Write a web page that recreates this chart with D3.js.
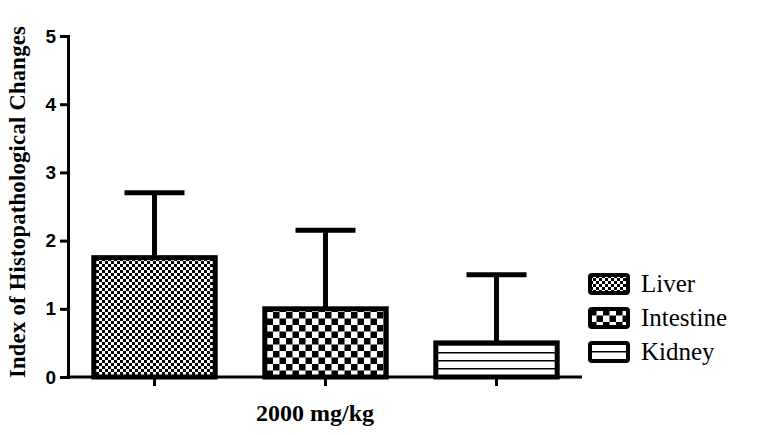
<!DOCTYPE html>
<html><head><meta charset="utf-8">
<script src="https://cdn.jsdelivr.net/npm/d3@7"></script>
<style>body{margin:0;background:#fff}</style>
</head><body><div id="container"></div>
<script>
/* DATA */
const organs = ["Liver", "Intestine", "Kidney"]
const means = [1.75, 1.0, 0.5]
const errors = [0.95, 1.15, 1.0]
const yTicks = [0, 1, 2, 3, 4, 5]
const patterns = ["pLiver", "pIntestine", "pKidney"]

const width = 781, height = 435

const svg = d3.select("#container").append("svg")
  .attr("width", width).attr("height", height)
  .style("font-family", "Liberation Serif")

const defs = svg.append("defs")
// small checker
const p1 = defs.append("pattern").attr("id", "pLiver").attr("patternUnits", "userSpaceOnUse").attr("width", 6).attr("height", 6)
p1.append("rect").attr("width", 6).attr("height", 6).attr("fill", "#fff")
p1.append("rect").attr("width", 3).attr("height", 3).attr("fill", "#000")
p1.append("rect").attr("x", 3).attr("y", 3).attr("width", 3).attr("height", 3).attr("fill", "#000")
// larger checker
const p2 = defs.append("pattern").attr("id", "pIntestine").attr("patternUnits", "userSpaceOnUse").attr("width", 13).attr("height", 13)
p2.append("rect").attr("width", 13).attr("height", 13).attr("fill", "#fff")
p2.append("rect").attr("width", 6.5).attr("height", 6.5).attr("fill", "#000")
p2.append("rect").attr("x", 6.5).attr("y", 6.5).attr("width", 6.5).attr("height", 6.5).attr("fill", "#000")
// horizontal lines
const p3 = defs.append("pattern").attr("id", "pKidney").attr("patternUnits", "userSpaceOnUse").attr("width", 8).attr("height", 8)
p3.append("rect").attr("width", 8).attr("height", 8).attr("fill", "#fff")
p3.append("rect").attr("y", 0).attr("width", 8).attr("height", 1.5).attr("fill", "#000")

const xScale = d3.scaleBand().domain(organs).range([69, 582]).paddingInner(0.29).paddingOuter(0.145)
const yScale = d3.scaleLinear().domain([0, 5]).range([377, 36])

// y axis
const yAxis = svg.append("g").attr("transform", "translate(68,0)")
  .call(d3.axisLeft(yScale).tickValues(yTicks).tickSize(8).tickFormat(d3.format("d")))
yAxis.select(".domain").attr("stroke-width", 3)
yAxis.selectAll(".tick line").attr("stroke-width", 3)
yAxis.selectAll("text").attr("font-family", "Liberation Sans").attr("font-weight", "bold").attr("font-size", 19).attr("dx", -1)

// x axis
svg.append("line").attr("x1", 66.5).attr("x2", 582).attr("y1", 377).attr("y2", 377).attr("stroke", "#000").attr("stroke-width", 3)
svg.selectAll(".xt").data(organs).join("line")
  .attr("x1", d => xScale(d) + xScale.bandwidth() / 2).attr("x2", d => xScale(d) + xScale.bandwidth() / 2)
  .attr("y1", 377).attr("y2", 386).attr("stroke", "#000").attr("stroke-width", 3)

// error bars
svg.selectAll(".err").data(organs).join("path")
  .attr("d", (d, i) => {
    const cx = xScale(d) + xScale.bandwidth() / 2
    return `M${cx},${yScale(means[i])}V${yScale(means[i] + errors[i])}M${cx - 30},${yScale(means[i] + errors[i])}H${cx + 30}`
  })
  .attr("stroke", "#000").attr("stroke-width", 5).attr("fill", "none")

// bars
svg.selectAll(".bar").data(organs).join("rect")
  .attr("x", d => xScale(d)).attr("width", xScale.bandwidth())
  .attr("y", (d, i) => yScale(means[i])).attr("height", (d, i) => yScale(0) - yScale(means[i]))
  .attr("fill", (d, i) => `url(#${patterns[i]})`).attr("stroke", "#000").attr("stroke-width", 5)

// labels
svg.append("text").attr("x", 315).attr("y", 421).attr("text-anchor", "middle")
  .attr("font-weight", "bold").attr("font-size", 24).text("2000 mg/kg")
svg.append("text").attr("transform", "translate(25,202) rotate(-90)").attr("text-anchor", "middle")
  .attr("font-weight", "bold").attr("font-size", 22.5).attr("letter-spacing", 0.3).text("Index of Histopathological Changes")

// legend
const leg = svg.selectAll(".leg").data(organs).join("g")
  .attr("transform", (d, i) => `translate(590,${275 + i * 34})`)
leg.append("rect").attr("width", 38).attr("height", 18).attr("rx", 2)
  .attr("fill", (d, i) => `url(#${patterns[i]})`).attr("stroke", "#000").attr("stroke-width", 4)
leg.append("text").attr("x", 51).attr("y", 17).attr("font-size", 25).text(d => d)
</script>
</body></html>
